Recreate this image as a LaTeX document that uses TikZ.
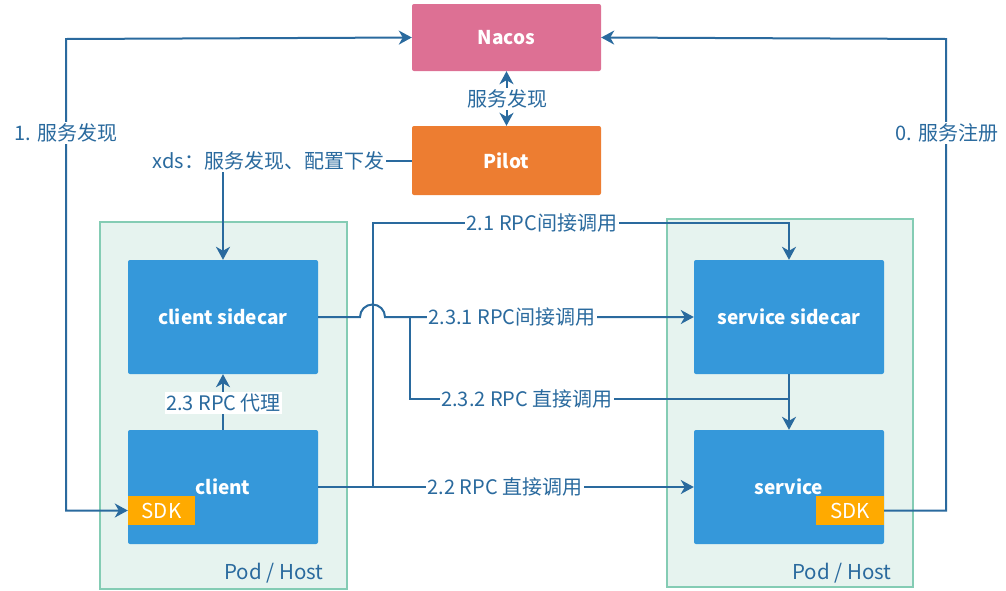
\documentclass[tikz,border=0pt]{standalone}
\usepackage{fontspec}
\setmainfont{Noto Sans CJK SC}
\usetikzlibrary{arrows.meta}
\definecolor{cnacos}{HTML}{DD7094}
\definecolor{cpilot}{HTML}{ED7D31}
\definecolor{cblue}{HTML}{3598DA}
\definecolor{cline}{HTML}{2A6A9E}
\definecolor{csdk}{HTML}{FFAA00}
\definecolor{podfill}{HTML}{E6F3EF}
\definecolor{podline}{HTML}{84CCB4}
\tikzset{
  box/.style={rectangle, rounded corners=2pt, inner sep=0pt, text=white,
    font=\bfseries\fontsize{19}{22}\selectfont},
  bluebox/.style={box, fill=cblue, minimum width=190pt, minimum height=114pt},
  sdkbox/.style={rectangle, inner sep=0pt, fill=csdk, text=white,
    minimum height=29pt, font=\fontsize{20.5}{23}\selectfont},
  pod/.style={draw=podline, fill=podfill, line width=2pt},
  conn/.style={draw=cline, line width=2pt},
  arr/.style={conn, -{Stealth[length=13pt,width=14pt,inset=4pt]}},
  darr/.style={conn, {Stealth[length=13pt,width=14pt,inset=4pt]}-{Stealth[length=13pt,width=14pt,inset=4pt]}},
  lbl/.style={fill=white, inner sep=1.5pt, text=cline, font=\fontsize{20}{23}\selectfont},
  podlbl/.style={inner sep=0pt, text=cline, font=\fontsize{20.5}{23}\selectfont}
}
\begin{document}
\begin{tikzpicture}[x=1pt, y=-1pt]
\useasboundingbox (0,0) rectangle (1006,590);
% pods
\draw[pod] (100,222) rectangle (347,589);
\draw[pod] (667,219) rectangle (913,587);
\node[podlbl] (pl) at (274,573) {Pod / Host};
\node[podlbl] (pr) at (842,573) {Pod / Host};
% top boxes
\node[box, fill=cnacos, minimum width=189pt, minimum height=67pt] (nacos) at (506.5,37.5) {Nacos};
\node[box, fill=cpilot, minimum width=189pt, minimum height=69pt] (pilot) at (506.5,160.5) {Pilot};
% blue boxes
\node[bluebox] (cs) at (223,317) {client sidecar};
\node[bluebox] (c) at (223,487) {client};
\node[bluebox] (ss) at (789,317) {service sidecar};
\node[bluebox] (s) at (789,487) {service};
\node[sdkbox, minimum width=67pt] (sdk1) at (161.5,510.5) {SDK};
\node[sdkbox, minimum width=68pt] (sdk2) at (850,510.5) {SDK};
% coordinates
\coordinate (lx) at (66,39);
\coordinate (rx) at (946,39);
\coordinate (j1) at (360,317);
\coordinate (br) at (410,317);
\coordinate (v21) at (373,223);
\coordinate (m232) at (789,399);
% connectors
\draw[darr] (sdk1.west) -| (lx) -- (nacos.west);
\node[lbl] (l1) at (66,133) {1. 服务发现};
\draw[arr] (sdk2.east) -| (rx) -- (nacos.east);
\node[lbl] (l0) at (947,133) {0. 服务注册};
\draw[darr] (nacos.south) -- (pilot.north);
\node[lbl] (lm) at (507,99) {服务发现};
\draw[arr] (pilot.west) -| (cs.north);
\node[lbl] (lx2) at (268.5,161) {xds：服务发现、配置下发};
\draw[arr] (c.north) -- (cs.south);
\node[lbl] (l23) at (223.5,403) {2.3 RPC 代理};
\draw[arr] (c.east) -| (v21) -| (ss.north);
\node[lbl] (l21) at (542,223) {2.1 RPC间接调用};
\draw[arr] (c.east) -- (s.west);
\node[lbl] (l22) at (505,487) {2.2 RPC 直接调用};
\draw[arr] (cs.east) -- (j1) arc[start angle=180, end angle=0, radius=12.5pt] -- (ss.west);
\node[lbl] (l231) at (512,317) {2.3.1 RPC间接调用};
\draw[conn] (br) |- (m232);
\draw[arr] (ss.south) -- (s.north);
\node[lbl] (l232) at (527,399) {2.3.2 RPC 直接调用};
\end{tikzpicture}
\end{document}
